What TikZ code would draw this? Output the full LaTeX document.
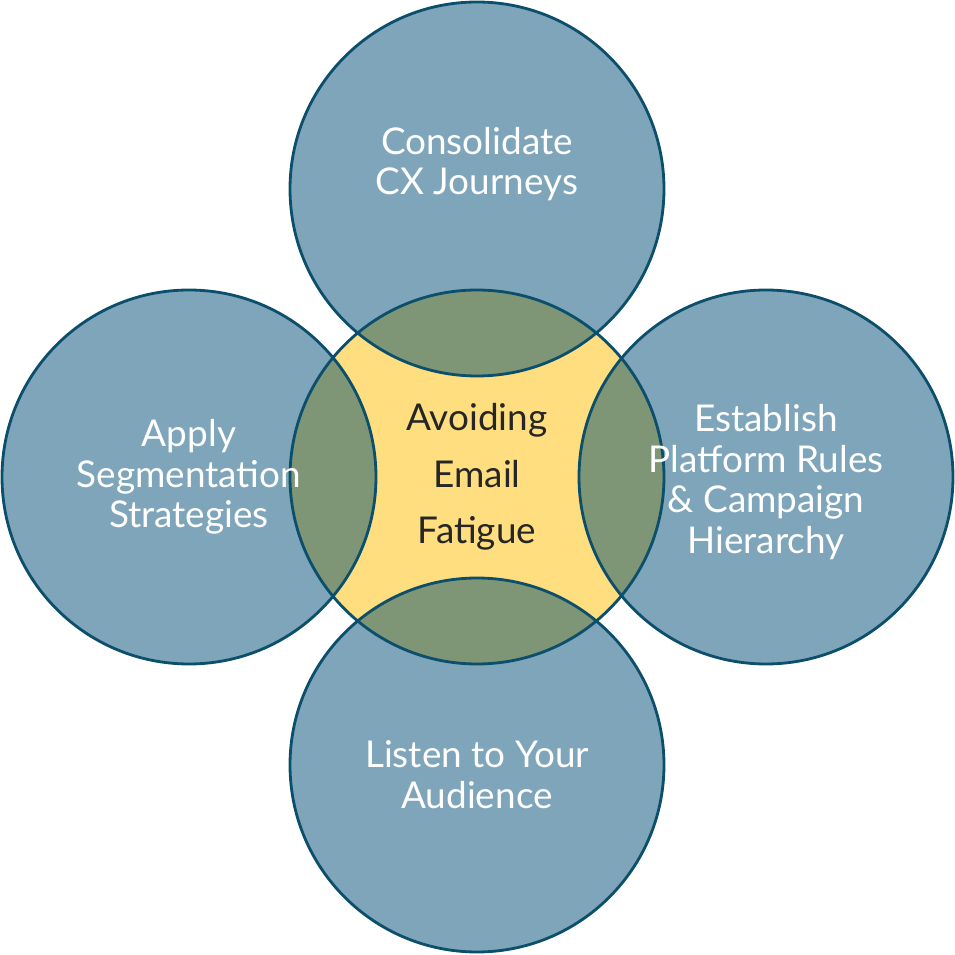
\documentclass[tikz,border=0pt]{standalone}
\usepackage{fontspec}
\setmainfont{Lato}
\definecolor{ringblue}{HTML}{7FA5BA}
\definecolor{ringline}{HTML}{0B4F6C}
\definecolor{coreyellow}{HTML}{FFDE80}
\definecolor{overlapgreen}{HTML}{7E9676}
\tikzset{
  ring/.style={circle,minimum size=3.74cm,inner sep=0pt,align=center,
    text=white,font=\fontsize{10.5}{11.6}\selectfont},
  edge/.style={draw=ringline,line width=0.8pt}
}
\begin{document}
\begin{tikzpicture}
    \useasboundingbox (0,0) rectangle (9.55,9.55);
    % circle centres
    \coordinate (c) at (4.77,4.78);
    \coordinate (t) at (4.77,7.66);
    \coordinate (b) at (4.77,1.90);
    \coordinate (l) at (1.89,4.78);
    \coordinate (r) at (7.66,4.78);
    % fills
    \foreach \p in {t,b,l,r}
        \fill[ringblue] (\p) circle (1.87);
    \fill[coreyellow] (c) circle (1.87);
    \begin{scope}
        \clip (c) circle (1.87);
        \foreach \p in {t,b,l,r}
            \fill[overlapgreen] (\p) circle (1.87);
    \end{scope}
    % outlines
    \foreach \p in {c,t,b,l,r}
        \draw[edge] (\p) circle (1.87);
    % labels
    \node[ring] (top) at ([yshift=0.25cm]t) {Consolidate\\CX Journeys};
    \node[ring] (left) at (l) {Apply\\Segmentation\\Strategies};
    \node[ring] (right) at ([yshift=-0.05cm]r) {Establish\\Platform Rules\\\& Campaign\\Hierarchy};
    \node[ring] (bottom) at ([yshift=-0.1cm]b) {Listen to Your\\Audience};
    \node[ring,text=black!85,font=\fontsize{10.5}{16}\selectfont] (core) at (c) {Avoiding\\Email\\Fatigue};
\end{tikzpicture}
\end{document}
